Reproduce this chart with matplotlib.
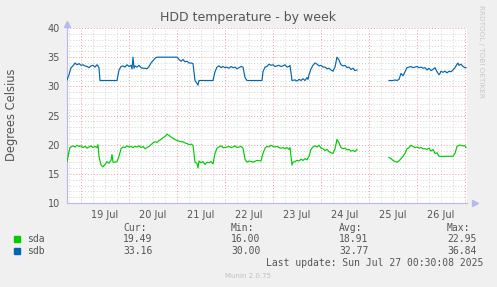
import numpy as np
import matplotlib
matplotlib.use("Agg")
import matplotlib.pyplot as plt

# hours since 18 Jul 00:00
sdb_hours = [17, 18, 19, 20, 21, 22, 23, 24, 25, 26, 27, 28, 29, 30, 31, 32, 33, 33.5,
             36, 39, 42, 43, 44, 45, 46, 47, 48, 49, 49.5, 50, 50.5, 51, 52, 53, 54, 55,
             56, 57, 58, 59, 60, 61, 62, 66, 72, 73, 74, 75, 76, 77, 78, 79, 80, 81, 82,
             82.5, 83, 86, 90, 91, 92, 93, 94, 95, 96, 97, 98, 99, 100, 101, 102, 103,
             104, 105, 106, 107, 110, 114.5, 115, 116, 117, 118, 119, 120, 121, 122, 123,
             124, 125, 126, 127, 128, 128.5, 129.5, 131, 132, 133, 134, 135, 136, 137,
             137.5, 138, 139, 140, 141, 142, 143, 144, 145, 146, 147, 148, 149, 150, 151,
             152, 153, 154, 155, 156, 157, 158, 159, 160, 161, 162, 170,
             178, 179, 180, 181, 182, 183, 184, 185, 186, 187, 188, 189, 190, 191, 192,
             193, 194, 195, 196, 197, 198, 199, 200, 201, 202, 203, 203.5, 204, 205, 206,
             207, 208, 209, 210, 211, 212, 212.5, 213, 214, 215, 216, 216.5]
sdb_temp = [31.1, 32.0, 33.2, 33.5, 34.0, 33.7, 33.9, 33.6, 33.7, 33.5, 33.4, 33.2, 33.5,
            33.6, 33.3, 33.7, 33.2, 31.0,
            31.0, 31.0, 31.0, 32.8, 33.4, 33.5, 33.3, 33.7, 33.4, 33.6, 33.0, 35.0, 33.1,
            33.5, 33.3, 33.6, 33.2, 33.1,
            33.1, 33.0, 33.4, 34.0, 34.4, 34.8, 35.0, 35.0, 35.0, 34.6, 34.3, 34.6, 34.2,
            34.3, 34.0, 34.0, 33.9, 31.0, 30.5,
            30.2, 31.0, 31.0, 31.0, 32.5, 33.3, 33.5, 33.2, 33.4, 33.2, 33.3, 33.1, 33.4,
            33.2, 33.3, 33.0, 33.2,
            33.4, 33.3, 31.5, 31.0, 31.0, 31.0, 32.5, 33.3, 33.4, 33.8, 33.6, 33.7, 33.4,
            33.5, 33.6,
            33.4, 33.5, 33.7, 33.3, 33.4, 33.6, 31.0, 31.1, 30.9, 31.2, 31.0, 31.3, 31.0,
            31.5,
            31.2, 32.0, 33.0, 33.6, 34.0, 33.8, 33.5, 33.6, 33.3, 33.3, 33.0, 33.1, 32.8,
            32.6, 33.3,
            35.0, 34.5, 33.7, 33.5, 33.6, 33.2, 33.3, 32.9, 33.1, 32.7, 32.8, np.nan,
            31.0, 31.0, 31.0, 31.1, 31.0, 31.2, 32.2, 31.8, 32.5, 33.2, 33.3, 33.4, 33.2,
            33.3, 33.4,
            33.2, 33.3, 33.1, 33.2, 32.8, 33.1, 32.7, 32.9, 33.2, 32.5, 32.0, 32.2, 32.6,
            32.4, 32.6,
            32.3, 32.6, 32.5, 32.8, 33.2, 33.8, 34.0, 33.6, 33.8, 33.4, 33.2, 33.2]

sda_hours = [17, 18, 18.5, 19, 20, 21, 22, 23, 24, 25, 26, 27, 28, 29, 30, 31, 32, 32.5,
             33, 34, 35, 36, 37, 38, 39, 39.5, 40, 41, 42, 43, 44, 45, 46, 47, 48, 49, 50,
             51, 52, 53, 54, 55, 56, 57, 58, 59, 60, 61, 62, 63, 64, 65, 66, 67, 68, 69,
             70, 71, 72, 73, 74, 75, 76, 77, 78, 79, 80, 81, 82, 82.5, 83, 84, 85, 86, 87,
             88, 89, 90, 91, 92, 93, 94, 95, 96, 97, 98, 99, 100, 101, 102, 103, 104, 105,
             106, 107, 108, 110, 112, 114, 115, 116, 117, 118, 119, 120, 121, 122, 123,
             124, 125, 126, 127, 128, 128.5, 129.5, 130, 131, 132, 133, 134, 135, 136,
             137, 138, 139, 140, 141, 142, 143, 144, 145, 146, 147, 148, 149, 150, 151,
             152, 153, 154, 155, 156, 157, 158, 159, 160, 161, 162, 170,
             178, 179, 180, 181, 182, 183, 184, 185, 186, 187, 188, 189, 190, 191, 192,
             193, 194, 195, 196, 197, 198, 199, 200, 201, 202, 203, 204, 210, 211, 212,
             213, 214, 215, 216, 216.5]
sda_temp = [17.1, 18.8, 19.5, 19.6, 19.8, 19.6, 19.9, 19.7, 19.8, 19.5, 19.7, 19.4, 19.6,
            19.8, 19.5, 19.7, 19.5, 20.0,
            18.0, 16.5, 16.2, 16.6, 17.1, 16.8, 17.3, 18.3, 17.0, 17.0, 17.1, 18.0, 19.3,
            19.6, 19.5, 19.8, 19.6, 19.7, 19.5,
            19.7, 19.6, 19.8, 19.5, 19.7, 19.3, 19.5, 19.7, 20.0, 20.3, 20.5, 20.4, 20.7,
            20.9, 21.2, 21.4, 21.8, 21.6, 21.3,
            21.1, 20.9, 20.7, 20.6, 20.5, 20.5, 20.3, 20.2, 20.0, 20.1, 19.9, 17.0, 16.8,
            16.0, 17.2, 16.9, 17.1, 16.6, 17.0,
            16.9, 17.1, 16.7, 18.5, 19.4, 19.6, 19.8, 19.5, 19.5, 19.6, 19.7, 19.5, 19.6,
            19.8, 19.5, 19.6, 19.7, 19.4,
            17.5, 17.0, 17.2, 17.0, 17.3, 17.2, 18.5, 19.4, 19.7, 19.6, 19.9, 19.7, 19.6,
            19.7, 19.5,
            19.4, 19.5, 19.3, 19.5, 19.2, 19.5, 16.5, 17.0, 17.1, 17.3, 17.2, 17.5, 17.3,
            17.6,
            17.4, 18.0, 19.2, 19.6, 19.8, 19.6, 19.9, 19.4, 19.3, 19.0, 19.2, 18.8, 18.6,
            18.5, 19.3,
            20.9, 20.3, 19.5, 19.3, 19.4, 19.1, 19.2, 18.9, 19.0, 18.8, 19.2, np.nan,
            17.8, 17.6, 17.3, 17.1, 17.0, 17.2, 17.6, 18.0, 18.5, 19.3, 19.5, 19.9, 19.7,
            19.5, 19.6,
            19.4, 19.5, 19.3, 19.3, 19.2, 19.4, 18.9, 19.2, 18.5, 18.6, 18.0, 18.0, 18.0,
            18.5, 19.7,
            19.9, 19.9, 19.8, 19.8, 19.5]

day_labels = ["19 Jul", "20 Jul", "21 Jul", "22 Jul", "23 Jul", "24 Jul", "25 Jul", "26 Jul"]
y_ticks = [10, 15, 20, 25, 30, 35, 40]

legend_names = ["sda", "sdb"]
legend_colors = ["#00cc00", "#0066b3"]
cur_vals = ["19.49", "33.16"]
min_vals = ["16.00", "30.00"]
avg_vals = ["18.91", "32.77"]
max_vals = ["22.95", "36.84"]

W, H = 497, 287
fig = plt.figure(figsize=(W / 100, H / 100), dpi=100, facecolor="#f0f0f0")
ax = fig.add_axes([67 / W, 1 - 203 / H, 400 / W, 175 / H])
ax.set_facecolor("white")

# grid: minor gray, major red
for h in range(18, 217, 6):
    c = "#e5a0a0" if h % 24 == 0 else "#d4d4d4"
    ax.axvline(h, color=c, lw=0.7, ls=(0, (1, 2)), zorder=1)
for v in range(11, 40):
    c = "#e5a0a0" if v % 5 == 0 else "#d4d4d4"
    ax.axhline(v, color=c, lw=0.7, ls=(0, (1, 2)), zorder=1)
ax.axhline(40, color="#e5a0a0", lw=0.7, ls=(0, (1, 2)), zorder=1)

ax.plot(sda_hours, sda_temp, color=legend_colors[0], lw=0.85, zorder=3)
ax.plot(sdb_hours, sdb_temp, color=legend_colors[1], lw=0.85, zorder=3)

ax.set_xlim(17, 217)
ax.set_ylim(10, 40)
ax.set_xticks([36 + 24 * i for i in range(len(day_labels))])
ax.set_xticklabels(day_labels)
ax.set_yticks(y_ticks)
ax.tick_params(length=0, labelsize=7, colors="#555555", pad=5)
for s in ["top", "right"]:
    ax.spines[s].set_visible(False)
for s in ["left", "bottom"]:
    ax.spines[s].set_color("#b8b8f0")
    ax.spines[s].set_linewidth(0.8)
ax.plot(0, 1.025, marker="^", ms=5, color="#b8b8f0", transform=ax.transAxes, clip_on=False)
ax.plot(1.02, 0, marker=">", ms=5, color="#b8b8f0", transform=ax.transAxes, clip_on=False)

fig.text(12 / W, 1 - 115 / H, "Degrees Celsius", rotation=90, ha="center", va="center",
         fontsize=8.3, color="#555555")

fig.text(248 / W, 1 - 18 / H, "HDD temperature - by week", ha="center", va="center",
         fontsize=9, color="#555555")
fig.text(481 / W, 1 - 5 / H, "RRDTOOL / TOBI OETIKER", rotation=270, ha="center", va="top",
         fontsize=5.2, color="#c8c8c8")

mono = dict(family="DejaVu Sans Mono", fontsize=7, color="#555555", va="center")
fig.text(123 / W, 1 - 228 / H, "Cur:", **mono)
fig.text(231 / W, 1 - 228 / H, "Min:", **mono)
fig.text(339 / W, 1 - 228 / H, "Avg:", **mono)
fig.text(447 / W, 1 - 228 / H, "Max:", **mono)
rows_y = [239, 251]
for i in range(2):
    y = 1 - rows_y[i] / H
    fig.patches.append(plt.Rectangle((14 / W, y - 3 / H), 6 / W, 6 / H,
                                     transform=fig.transFigure, color=legend_colors[i]))
    fig.text(27 / W, y, legend_names[i], **mono)
    fig.text(123 / W, y, cur_vals[i], **mono)
    fig.text(231 / W, y, min_vals[i], **mono)
    fig.text(339 / W, y, avg_vals[i], **mono)
    fig.text(447 / W, y, max_vals[i], **mono)
fig.text(483 / W, 1 - 263 / H, "Last update: Sun Jul 27 00:30:08 2025", ha="right", **mono)
fig.text(248 / W, 1 - 276 / H, "Munin 2.0.75", ha="center", va="center", fontsize=5,
         color="#c0c0c0")

fig.savefig("out.png", dpi=100, facecolor=fig.get_facecolor())
